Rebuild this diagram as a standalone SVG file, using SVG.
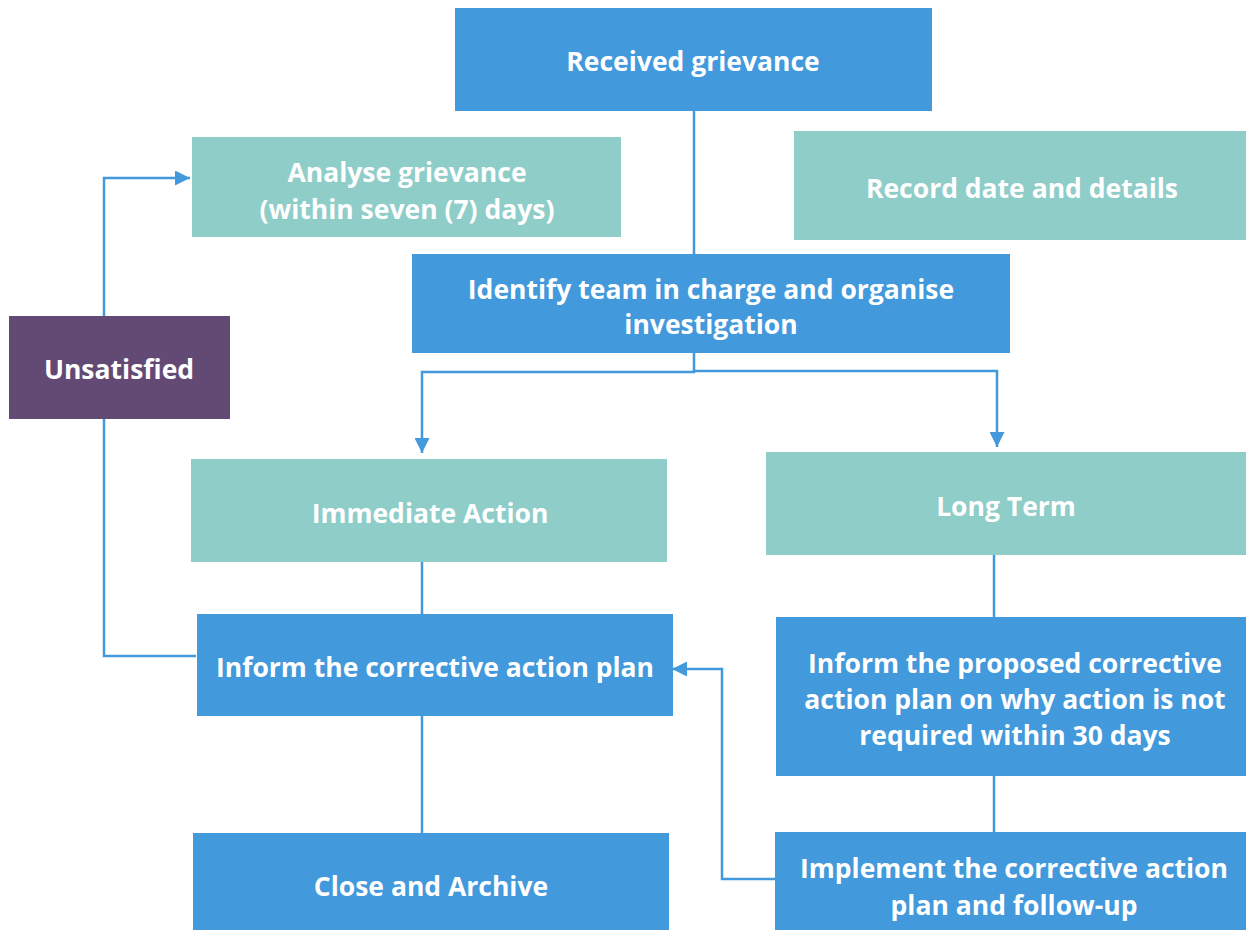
<svg xmlns="http://www.w3.org/2000/svg" width="1246" height="930" viewBox="0 0 1246 930">
<defs>
<style>
.blue{fill:#4299db}
.teal{fill:#8fcdc8}
.purple{fill:#634a75}
text{font-family:"Open Sans","Noto Sans",sans-serif;font-weight:700;font-size:26.5px;fill:#ffffff;text-anchor:middle;dominant-baseline:central}
.c{fill:none;stroke:#4299db;stroke-width:2.5}
</style>
<marker id="arr" viewBox="0 0 10 10" refX="10" refY="5" markerWidth="6.5" markerHeight="6" orient="auto" markerUnits="strokeWidth">
<path d="M0,0 L10,5 L0,10 z" fill="#4299db"/>
</marker>
</defs>
<rect width="1246" height="930" fill="#ffffff"/>
<g id="connectors">
<path class="c" d="M694,111 V254"/>
<path class="c" d="M694,353 V372 H422 V453" marker-end="url(#arr)"/>
<path class="c" d="M694,371 H997 V447" marker-end="url(#arr)"/>
<path class="c" d="M104,316 V178 H190" marker-end="url(#arr)"/>
<path class="c" d="M104,419 V656 H196"/>
<path class="c" d="M422,562 V614"/>
<path class="c" d="M422,716 V833"/>
<path class="c" d="M994,555 V617"/>
<path class="c" d="M994,776 V832"/>
<path class="c" d="M775,879 H722 V669 H672" marker-end="url(#arr)"/>
</g>
<g id="received"><rect class="blue" x="455" y="8" width="477" height="103"/><text x="693" y="61">Received grievance</text></g>
<g id="analyse"><rect class="teal" x="192" y="137" width="429" height="100"/><text x="407" y="172">Analyse grievance</text><text x="407" y="209">(within seven (7) days)</text></g>
<g id="record"><rect class="teal" x="794" y="131" width="452" height="109"/><text x="1022" y="188">Record date and details</text></g>
<g id="identify"><rect class="blue" x="412" y="254" width="598" height="99"/><text x="711" y="289">Identify team in charge and organise</text><text x="711" y="324">investigation</text></g>
<g id="unsatisfied"><rect class="purple" x="9" y="316" width="221" height="103"/><text x="119" y="369">Unsatisfied</text></g>
<g id="immediate"><rect class="teal" x="191" y="459" width="476" height="103"/><text x="430" y="513">Immediate Action</text></g>
<g id="longterm"><rect class="teal" x="766" y="452" width="480" height="103"/><text x="1006" y="506">Long Term</text></g>
<g id="inform"><rect class="blue" x="197" y="614" width="476" height="102"/><text x="435" y="667">Inform the corrective action plan</text></g>
<g id="proposed"><rect class="blue" x="776" y="617" width="470" height="159"/><text x="1015" y="663">Inform the proposed corrective</text><text x="1015" y="699">action plan on why action is not</text><text x="1015" y="735">required within 30 days</text></g>
<g id="close"><rect class="blue" x="193" y="833" width="476" height="97"/><text x="431" y="886">Close and Archive</text></g>
<g id="implement"><rect class="blue" x="775" y="832" width="471" height="98"/><text x="1014" y="868">Implement the corrective action</text><text x="1014" y="905">plan and follow-up</text></g>
</svg>
